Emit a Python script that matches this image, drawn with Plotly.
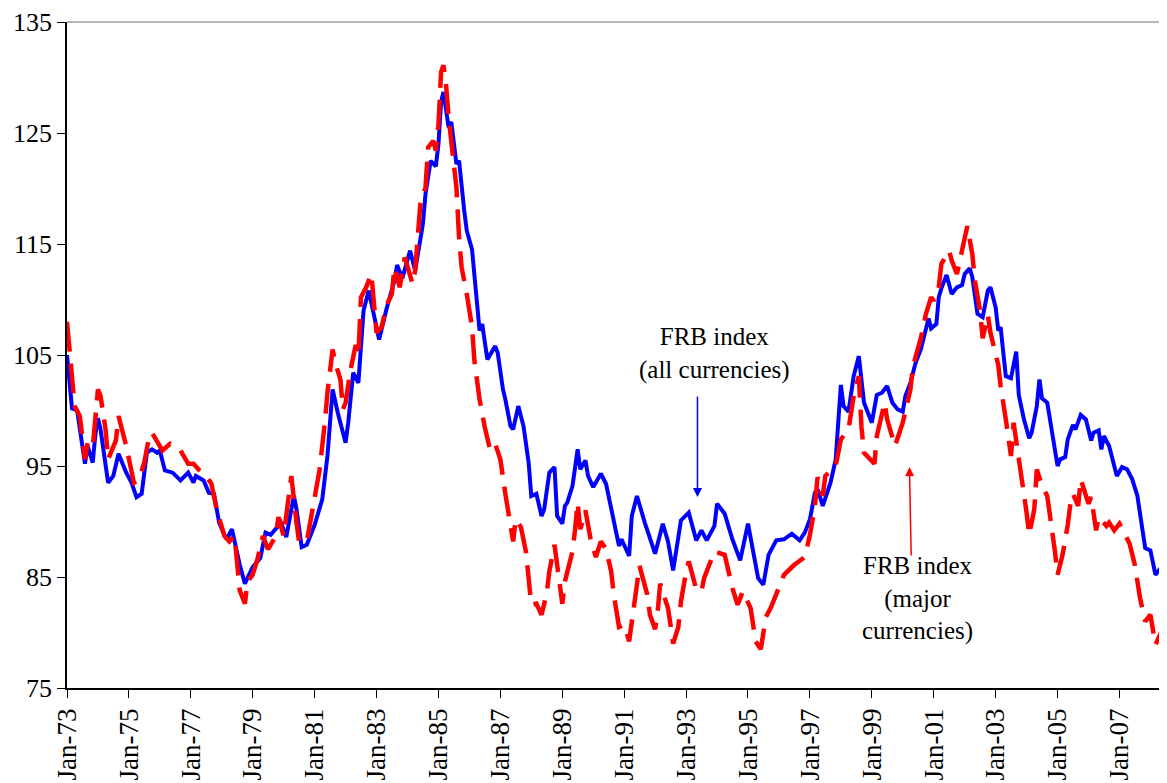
import plotly.graph_objects as go

# ---- FRB index (all currencies) : blue solid ----
all_dates = [
    "1973-01", "1973-03", "1973-05", "1973-08", "1973-09", "1973-11", "1973-12",
    "1974-01", "1974-02", "1974-05", "1974-07", "1974-09", "1974-12",
    "1975-02", "1975-04", "1975-06", "1975-08", "1975-10", "1975-12",
    "1976-01", "1976-03", "1976-06", "1976-09", "1976-12",
    "1977-02", "1977-03", "1977-06", "1977-08", "1977-10", "1977-12",
    "1978-02", "1978-03", "1978-05", "1978-06", "1978-08", "1978-10",
    "1979-01", "1979-04", "1979-06", "1979-08", "1979-12",
    "1980-02", "1980-03", "1980-05", "1980-06", "1980-08", "1980-10",
    "1981-01", "1981-04", "1981-06", "1981-08", "1981-10",
    "1982-01", "1982-02", "1982-04", "1982-06", "1982-08", "1982-10",
    "1983-02", "1983-05", "1983-08", "1983-09", "1983-11",
    "1984-02", "1984-04", "1984-06", "1984-07", "1984-08", "1984-10", "1984-12",
    "1985-01", "1985-02", "1985-03", "1985-05", "1985-06", "1985-08", "1985-09", "1985-11", "1985-12",
    "1986-02", "1986-04", "1986-05", "1986-06", "1986-08", "1986-11", "1986-12",
    "1987-02", "1987-03", "1987-05", "1987-06", "1987-08", "1987-10", "1987-12",
    "1988-01", "1988-03", "1988-05", "1988-06", "1988-08", "1988-10", "1988-11",
    "1989-01", "1989-02", "1989-03", "1989-05", "1989-07", "1989-08", "1989-10", "1989-11",
    "1990-01", "1990-04", "1990-06", "1990-08", "1990-10", "1990-11", "1990-12",
    "1991-03", "1991-04", "1991-06", "1991-09",
    "1992-01", "1992-04", "1992-06", "1992-08", "1992-11",
    "1993-02", "1993-05", "1993-07", "1993-09", "1993-12",
    "1994-01", "1994-04", "1994-07", "1994-10",
    "1995-01", "1995-05", "1995-07", "1995-09", "1995-12",
    "1996-03", "1996-06", "1996-09", "1996-11",
    "1997-01", "1997-03", "1997-04", "1997-06", "1997-09", "1997-11",
    "1998-01", "1998-02", "1998-04", "1998-06", "1998-08", "1998-10",
    "1999-01", "1999-03", "1999-05", "1999-07", "1999-09", "1999-11",
    "2000-01", "2000-02", "2000-04", "2000-06", "2000-08", "2000-10", "2000-11", "2000-12",
    "2001-02", "2001-03", "2001-04", "2001-06", "2001-08", "2001-10", "2001-12",
    "2002-01", "2002-03", "2002-04", "2002-06", "2002-08", "2002-10", "2002-11",
    "2003-01", "2003-02", "2003-03", "2003-05", "2003-07", "2003-09", "2003-10", "2003-12",
    "2004-02", "2004-03", "2004-05", "2004-06", "2004-07", "2004-09", "2004-11",
    "2005-01", "2005-02", "2005-04", "2005-05", "2005-07", "2005-08", "2005-10", "2005-12",
    "2006-02", "2006-03", "2006-05", "2006-06", "2006-07", "2006-09", "2006-10", "2006-12",
    "2007-02", "2007-04", "2007-06", "2007-08", "2007-09", "2007-11",
    "2008-01", "2008-03", "2008-05", "2008-07",
]
all_values = [
    105.0, 100.2, 100.0, 95.2, 96.8, 95.3, 97.8,
    99.3, 98.3, 93.5, 94.1, 96.1, 94.4,
    93.5, 92.2, 92.5, 96.2, 96.5, 96.2,
    96.4, 94.6, 94.4, 93.7, 94.4,
    93.5, 94.1, 93.7, 92.6, 92.5, 89.9,
    88.8, 88.4, 89.3, 88.2, 86.1, 84.4,
    85.9, 86.7, 89.0, 88.8, 89.9,
    88.6, 89.7, 92.3, 91.1, 87.7, 87.9,
    89.7, 92.0, 95.9, 101.9, 99.8,
    97.1, 98.9, 103.4, 102.5, 109.0, 110.8,
    106.4, 109.2, 111.7, 113.1, 111.9,
    114.4, 112.6, 115.6, 116.8, 119.5, 122.5, 122.0,
    124.0, 127.8, 128.7, 125.5, 126.0, 122.2, 122.5, 118.0, 116.2,
    114.5, 109.6, 107.2, 107.8, 104.6, 105.8, 105.2,
    101.9, 101.0, 98.6, 98.3, 100.4, 98.6, 95.3,
    92.3, 92.5, 90.5, 91.1, 94.4, 94.9, 90.5,
    89.8, 91.4, 91.7, 93.2, 96.5, 94.7, 95.5, 94.1,
    93.1, 94.3, 93.4, 91.1, 88.8, 87.8, 88.4,
    86.9, 90.5, 92.3, 89.9,
    87.1, 89.8, 88.2, 85.6, 90.1,
    90.8, 88.3, 89.2, 88.3, 89.6,
    91.6, 90.7, 88.4, 86.5,
    89.8, 84.9, 84.3, 87.0, 88.3,
    88.4, 88.9, 88.3, 89.0,
    90.2, 92.6, 92.9, 91.4, 93.5, 95.6,
    102.3, 100.4, 99.9, 103.1, 104.9, 100.7,
    98.9, 101.4, 101.6, 102.2, 100.7, 100.1,
    99.9, 101.3, 102.5, 104.3, 105.5, 107.5, 108.3, 107.4,
    107.8, 110.2, 111.0, 112.2, 110.5, 111.1, 111.3,
    112.3, 112.8, 112.0, 108.7, 108.4, 110.8, 111.1,
    109.3, 107.2, 107.5, 103.1, 102.9, 105.3, 101.4, 99.2,
    97.5, 98.0, 100.4, 102.8, 101.1, 100.7, 98.0,
    95.0, 95.6, 95.8, 97.4, 98.7, 98.3, 99.6, 99.2,
    97.3, 98.0, 98.2, 96.5, 97.7, 96.8, 95.9, 94.1,
    94.9, 94.7, 93.8, 92.3, 90.7, 87.6,
    87.4, 85.2, 85.8, 86.7,
]

# ---- FRB index (major currencies) : red dashed ----
major_dates = [
    "1973-01", "1973-03", "1973-04", "1973-06", "1973-08", "1973-09", "1973-11",
    "1974-01", "1974-02", "1974-04", "1974-05", "1974-08", "1974-09", "1974-12",
    "1975-03", "1975-05", "1975-07", "1975-09", "1975-10",
    "1976-01", "1976-02", "1976-05", "1976-09", "1976-12",
    "1977-02", "1977-04", "1977-07", "1977-09", "1977-11",
    "1978-02", "1978-04", "1978-06", "1978-07", "1978-08", "1978-10", "1978-11",
    "1979-01", "1979-03", "1979-05", "1979-07", "1979-10", "1979-11",
    "1980-01", "1980-04", "1980-06", "1980-07", "1980-10", "1980-12",
    "1981-01", "1981-03", "1981-05", "1981-06", "1981-08", "1981-09", "1981-11", "1981-12",
    "1982-01", "1982-03", "1982-05", "1982-06", "1982-07", "1982-09", "1982-11",
    "1983-01", "1983-03", "1983-05", "1983-07", "1983-08", "1983-10", "1983-12",
    "1984-03", "1984-04", "1984-06", "1984-08", "1984-09", "1984-11", "1984-12",
    "1985-01", "1985-02", "1985-03", "1985-04", "1985-05", "1985-07", "1985-08", "1985-09", "1985-10", "1985-12",
    "1986-02", "1986-03", "1986-05", "1986-07", "1986-09", "1986-11",
    "1987-01", "1987-03", "1987-05", "1987-06", "1987-07", "1987-09", "1987-11",
    "1988-01", "1988-03", "1988-05", "1988-07", "1988-08", "1988-10",
    "1989-01", "1989-02", "1989-05", "1989-06", "1989-07", "1989-08", "1989-10", "1989-12",
    "1990-02", "1990-04", "1990-06", "1990-08", "1990-09", "1990-11",
    "1991-01", "1991-03", "1991-05", "1991-07", "1991-10", "1991-11",
    "1992-01", "1992-02", "1992-03", "1992-06", "1992-07", "1992-08", "1992-10", "1992-11",
    "1993-01", "1993-02", "1993-05", "1993-07", "1993-08", "1993-12",
    "1994-04", "1994-07", "1994-09", "1994-11",
    "1995-02", "1995-04", "1995-06", "1995-08", "1995-10",
    "1996-03", "1996-07", "1996-09", "1996-11",
    "1997-01", "1997-03", "1997-04", "1997-06", "1997-07", "1997-11",
    "1998-01", "1998-04", "1998-06", "1998-08", "1998-09", "1998-10",
    "1999-02", "1999-03", "1999-06", "1999-07", "1999-10",
    "2000-01", "2000-04", "2000-05", "2000-08", "2000-10", "2000-12",
    "2001-01", "2001-03", "2001-04", "2001-07", "2001-08", "2001-10", "2001-12",
    "2002-02", "2002-04", "2002-05", "2002-07", "2002-08", "2002-10", "2002-11",
    "2003-02", "2003-03", "2003-05", "2003-06", "2003-07", "2003-08", "2003-10", "2003-11",
    "2004-01", "2004-02", "2004-04", "2004-05", "2004-07", "2004-09", "2004-11", "2004-12",
    "2005-01", "2005-03", "2005-05", "2005-06", "2005-07", "2005-09", "2005-10",
    "2006-01", "2006-02", "2006-04", "2006-05", "2006-08", "2006-09", "2006-11",
    "2007-01", "2007-05", "2007-07", "2007-09", "2007-11",
    "2008-01", "2008-03", "2008-07",
]
major_values = [
    108.0, 103.0, 100.4, 99.5, 95.6, 97.1, 96.7,
    101.9, 101.3, 98.3, 95.6, 97.3, 99.5, 96.8,
    93.5, 93.8, 95.3, 97.8, 98.0,
    96.8, 96.4, 97.0, 96.4, 95.2,
    95.2, 94.7, 94.1, 93.4, 91.1,
    88.7, 88.2, 88.7, 86.1, 83.8, 82.6, 84.6,
    85.2, 86.7, 88.7, 87.5, 88.7, 90.4,
    88.7, 94.1, 89.9, 88.2, 88.2, 90.8,
    91.7, 94.7, 98.9, 101.6, 105.5, 104.3, 102.8, 100.1,
    100.7, 103.7, 105.9, 104.9, 110.2, 111.1, 112.3,
    107.0, 107.5, 109.5, 110.5, 112.9, 111.1, 113.8,
    111.4, 112.6, 118.6, 120.1, 123.7, 124.3, 123.4,
    125.8, 130.5, 131.1, 129.3, 126.4, 122.2, 120.1, 115.6, 112.9, 110.5,
    107.5, 104.5, 101.0, 98.5, 96.5, 97.0,
    95.6, 92.5, 90.0, 88.2, 90.2, 89.5, 87.2,
    82.5, 82.6, 81.6, 83.5, 85.5, 87.9,
    82.6, 84.6, 87.3, 89.3, 91.7, 89.3, 91.0, 88.4,
    86.8, 88.2, 87.5, 85.5, 83.4, 80.5,
    80.7, 79.2, 83.0, 86.0, 83.4, 81.6,
    80.3, 81.9, 84.4, 82.2, 80.7, 79.0, 80.5, 82.8,
    85.5, 86.4, 83.9, 83.7, 84.9, 87.3,
    87.0, 84.0, 82.5, 83.7,
    82.2, 79.2, 78.5, 81.4, 82.3,
    85.2, 86.1, 86.5, 86.8,
    88.8, 91.4, 94.0, 92.3, 94.1, 95.0,
    97.4, 98.3, 101.3, 103.1, 98.5, 96.2,
    95.2, 97.7, 100.7, 99.2, 96.8,
    98.9, 101.9, 104.0, 106.5, 108.7, 110.2,
    109.9, 111.1, 113.2, 114.4, 113.5, 112.3, 114.4,
    116.6, 114.1, 111.7, 109.0, 106.5, 108.6, 107.0,
    104.1, 102.2, 99.2, 97.1, 95.9, 98.9, 95.9, 93.8,
    90.8, 88.8, 91.1, 94.7, 93.2, 92.3, 89.3, 87.3,
    85.2, 87.0, 89.7, 91.6, 92.5, 91.4, 93.8,
    91.6, 92.2, 89.2, 90.4, 89.6, 89.9, 89.2,
    89.8, 88.0, 86.1, 83.1, 81.0,
    81.6, 78.9, 81.0,
]

tick_dates = ["1973-01-01", "1975-01-01", "1977-01-01", "1979-01-01", "1981-01-01",
              "1983-01-01", "1985-01-01", "1987-01-01", "1989-01-01", "1991-01-01",
              "1993-01-01", "1995-01-01", "1997-01-01", "1999-01-01", "2001-01-01",
              "2003-01-01", "2005-01-01", "2007-01-01"]
tick_labels = ["Jan-73", "Jan-75", "Jan-77", "Jan-79", "Jan-81", "Jan-83", "Jan-85",
               "Jan-87", "Jan-89", "Jan-91", "Jan-93", "Jan-95", "Jan-97", "Jan-99",
               "Jan-01", "Jan-03", "Jan-05", "Jan-07"]
y_ticks = [75, 85, 95, 105, 115, 125, 135]

FONT = "Liberation Serif"

fig = go.Figure()
fig.add_trace(go.Scatter(
    x=all_dates, y=all_values, mode="lines",
    line=dict(color="#0000FF", width=4), name="FRB index (all currencies)",
))
fig.add_trace(go.Scatter(
    x=major_dates, y=major_values, mode="lines",
    line=dict(color="#FF0000", width=4.5, dash="30px,12px"),
    name="FRB index (major currencies)",
))

fig.update_layout(
    width=1159, height=775,
    margin=dict(l=59, r=0, t=9, b=95),
    paper_bgcolor="white", plot_bgcolor="white",
    showlegend=False,
    font=dict(family=FONT, size=25, color="black"),
    xaxis=dict(
        type="date", range=["1973-01-01", "2008-07-15"],
        tickmode="array", tickvals=tick_dates, ticktext=tick_labels,
        tickangle=-90, ticks="outside", ticklen=8, tickwidth=1.2, tickcolor="black",
        showline=True, linecolor="black", linewidth=1.5,
        showgrid=False, zeroline=False, ticklabeloverflow="allow",
        tickfont=dict(family=FONT, size=27, color="black"),
    ),
    yaxis=dict(
        range=[75, 135], tickmode="array", tickvals=y_ticks,
        ticksuffix="\u00a0", ticklabeloverflow="allow",
        ticks="outside", ticklen=8, tickwidth=1.2, tickcolor="black",
        showline=True, linecolor="black", linewidth=1.5,
        showgrid=False, zeroline=False,
        tickfont=dict(family=FONT, size=26, color="black"),
    ),
    shapes=[dict(type="line", xref="paper", yref="paper", x0=0, x1=1, y0=1, y1=1,
                 line=dict(color="#a0a0a0", width=1.5), layer="above")],
    annotations=[
        dict(xref="paper", yref="paper", x=0.589, y=0.502, text="FRB index<br>(all currencies)",
             showarrow=False, font=dict(family=FONT, size=25, color="black"),
             xanchor="center", yanchor="middle", align="center"),
        dict(xref="x", yref="y", x="1993-05-15", y=92.2, ax="1993-05-15", ay=101.4,
             axref="x", ayref="y", text="", showarrow=True, arrowhead=2,
             arrowsize=1.2, arrowwidth=1.5, arrowcolor="#0000FF"),
        dict(xref="paper", yref="paper", x=0.7736, y=0.134,
             text="FRB index<br>(major<br>currencies)",
             showarrow=False, font=dict(family=FONT, size=25, color="black"),
             xanchor="center", yanchor="middle", align="center"),
        dict(xref="x", yref="y", x="2000-03-20", y=94.9, ax="2000-04-10", ay=86.8,
             axref="x", ayref="y", text="", showarrow=True, arrowhead=2,
             arrowsize=1.2, arrowwidth=1.5, arrowcolor="#FF0000"),
    ],
)

fig.write_html("out.html")
